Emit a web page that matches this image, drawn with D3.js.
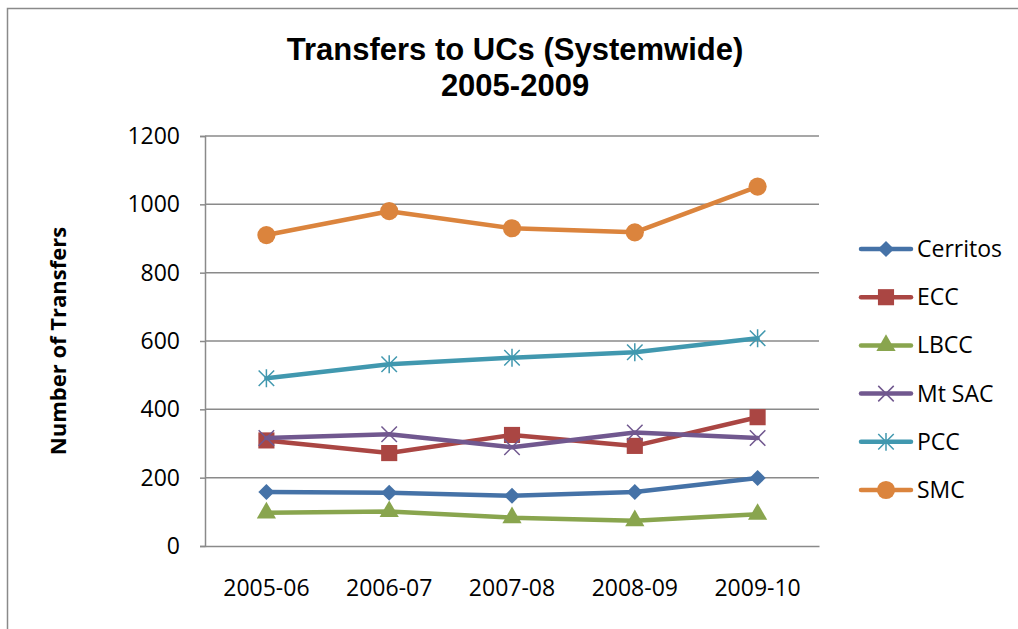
<!DOCTYPE html>
<html>
<head>
<meta charset="utf-8">
<script src="https://cdn.jsdelivr.net/npm/d3@7"></script>
<style>
  body { margin: 0; background: #fff; }
  svg { display: block; }
</style>
</head>
<body>
<svg id="chart" width="1018" height="629"></svg>
<script>
// --- data ---
const years = ['2005-06', '2006-07', '2007-08', '2008-09', '2009-10'];
const seriesNames = ['Cerritos', 'ECC', 'LBCC', 'Mt SAC', 'PCC', 'SMC'];
const cerritos = [158, 156, 147, 158, 199];
const ecc = [309, 272, 325, 293, 377];
const lbcc = [97, 101, 83, 74, 93];
const mtSac = [316, 327, 289, 332, 316];
const pcc = [491, 532, 551, 567, 608];
const smc = [910, 980, 930, 918, 1052];
const yTicks = [0, 200, 400, 600, 800, 1000, 1200];

const seriesValues = [cerritos, ecc, lbcc, mtSac, pcc, smc];
const colors = ['#4572A7', '#AA4643', '#89A54E', '#71588F', '#4198AF', '#DB843D'];

// custom marker shapes
const diamond = {
  draw(ctx, size) {
    const r = Math.sqrt(size / 2);
    ctx.moveTo(0, -r); ctx.lineTo(r, 0); ctx.lineTo(0, r); ctx.lineTo(-r, 0); ctx.closePath();
  }
};
const cross = {
  draw(ctx, size) {
    const r = Math.sqrt(size) / 2;
    ctx.moveTo(-r, -r); ctx.lineTo(r, r);
    ctx.moveTo(r, -r); ctx.lineTo(-r, r);
  }
};
const star = {
  draw(ctx, size) {
    const r = Math.sqrt(size) / 2;
    ctx.moveTo(-r, -r); ctx.lineTo(r, r);
    ctx.moveTo(r, -r); ctx.lineTo(-r, r);
    ctx.moveTo(0, -r * 1.15); ctx.lineTo(0, r * 1.15);
  }
};
const markers = [
  { type: diamond, size: 130, fill: true },
  { type: d3.symbolSquare, size: 260, fill: true },
  { type: d3.symbolTriangle, size: 160, fill: true },
  { type: cross, size: 240, fill: false },
  { type: star, size: 240, fill: false },
  { type: d3.symbolCircle, size: 260, fill: true }
];

const svg = d3.select('#chart');
const font = "'Open Sans', 'Noto Sans', sans-serif";

// outer chart frame (runs off the picture at right/bottom)
svg.append('rect')
  .attr('x', 7.5).attr('y', 8.5)
  .attr('width', 1100).attr('height', 700)
  .attr('fill', 'none')
  .attr('stroke', '#8a8a8a')
  .attr('stroke-width', 1.5);

const margin = { top: 136, left: 205, right: 199, bottom: 83 };
const width = 1018 - margin.left - margin.right;
const height = 629 - margin.top - margin.bottom;

const g = svg.append('g')
  .attr('transform', `translate(${margin.left},${margin.top})`);

const x = d3.scaleBand().domain(years).range([0, width]);
const y = d3.scaleLinear().domain([0, 1200]).range([height, 0]);

// gridlines
g.append('g')
  .selectAll('line')
  .data(yTicks.filter(d => d > 0))
  .join('line')
  .attr('x1', 0).attr('x2', width)
  .attr('y1', d => y(d)).attr('y2', d => y(d))
  .attr('stroke', '#8a8a8a')
  .attr('stroke-width', 1.5);

// y axis
const yAxis = g.append('g')
  .call(d3.axisLeft(y).tickValues(yTicks).tickFormat(d3.format('d')).tickSize(5).tickPadding(20));
yAxis.select('.domain').attr('stroke', '#8a8a8a').attr('stroke-width', 1.5);
yAxis.selectAll('.tick line').attr('stroke', '#8a8a8a').attr('stroke-width', 1.5);
yAxis.selectAll('.tick text')
  .attr('font-family', font)
  .attr('font-size', 23)
  .attr('fill', '#000');

// x axis
const xAxis = g.append('g')
  .attr('transform', `translate(0,${height})`)
  .call(d3.axisBottom(x).tickSize(0).tickPadding(34));
xAxis.select('.domain').attr('stroke', '#8a8a8a').attr('stroke-width', 1.5);
xAxis.selectAll('.tick text')
  .attr('font-family', font)
  .attr('font-size', 23)
  .attr('fill', '#000');

// lines and markers
const line = d3.line()
  .x((d, i) => x(years[i]) + x.bandwidth() / 2)
  .y(d => y(d));

seriesValues.forEach((vals, s) => {
  g.append('path')
    .datum(vals)
    .attr('fill', 'none')
    .attr('stroke', colors[s])
    .attr('stroke-width', 4.5)
    .attr('stroke-linejoin', 'round')
    .attr('stroke-linecap', 'round')
    .attr('d', line);

  const m = markers[s];
  g.append('g')
    .selectAll('path')
    .data(vals)
    .join('path')
    .attr('transform', (d, i) => `translate(${x(years[i]) + x.bandwidth() / 2},${y(d)})`)
    .attr('d', d3.symbol().type(m.type).size(m.size))
    .attr('fill', m.fill ? colors[s] : 'none')
    .attr('stroke', colors[s])
    .attr('stroke-width', m.fill ? 0 : 1.5);
});

// title
const title = svg.append('text')
  .attr('font-family', "'Liberation Sans', Arial, sans-serif")
  .attr('font-weight', 'bold')
  .attr('font-size', 31)
  .attr('text-anchor', 'middle');
title.append('tspan').attr('x', 515).attr('y', 60).text('Transfers to UCs (Systemwide)');
title.append('tspan').attr('x', 515).attr('y', 96).text('2005-2009');

// y axis title
svg.append('text')
  .attr('transform', 'translate(66,341) rotate(-90)')
  .attr('text-anchor', 'middle')
  .attr('font-family', font)
  .attr('font-weight', 'bold')
  .attr('font-size', 22)
  .text('Number of Transfers');

// legend
const legend = svg.append('g').attr('transform', 'translate(859,249)');
seriesNames.forEach((name, s) => {
  const row = legend.append('g').attr('transform', `translate(0,${s * 48.2})`);
  row.append('line')
    .attr('x1', 2).attr('x2', 52)
    .attr('stroke', colors[s])
    .attr('stroke-width', 4.5)
    .attr('stroke-linecap', 'round');
  const m = markers[s];
  row.append('path')
    .attr('transform', 'translate(27,0)')
    .attr('d', d3.symbol().type(m.type).size(m.size))
    .attr('fill', m.fill ? colors[s] : 'none')
    .attr('stroke', colors[s])
    .attr('stroke-width', m.fill ? 0 : 1.5);
  row.append('text')
    .attr('x', 58)
    .attr('dy', '0.35em')
    .attr('font-family', font)
    .attr('font-size', 23)
    .text(name);
});
</script>
</body>
</html>
